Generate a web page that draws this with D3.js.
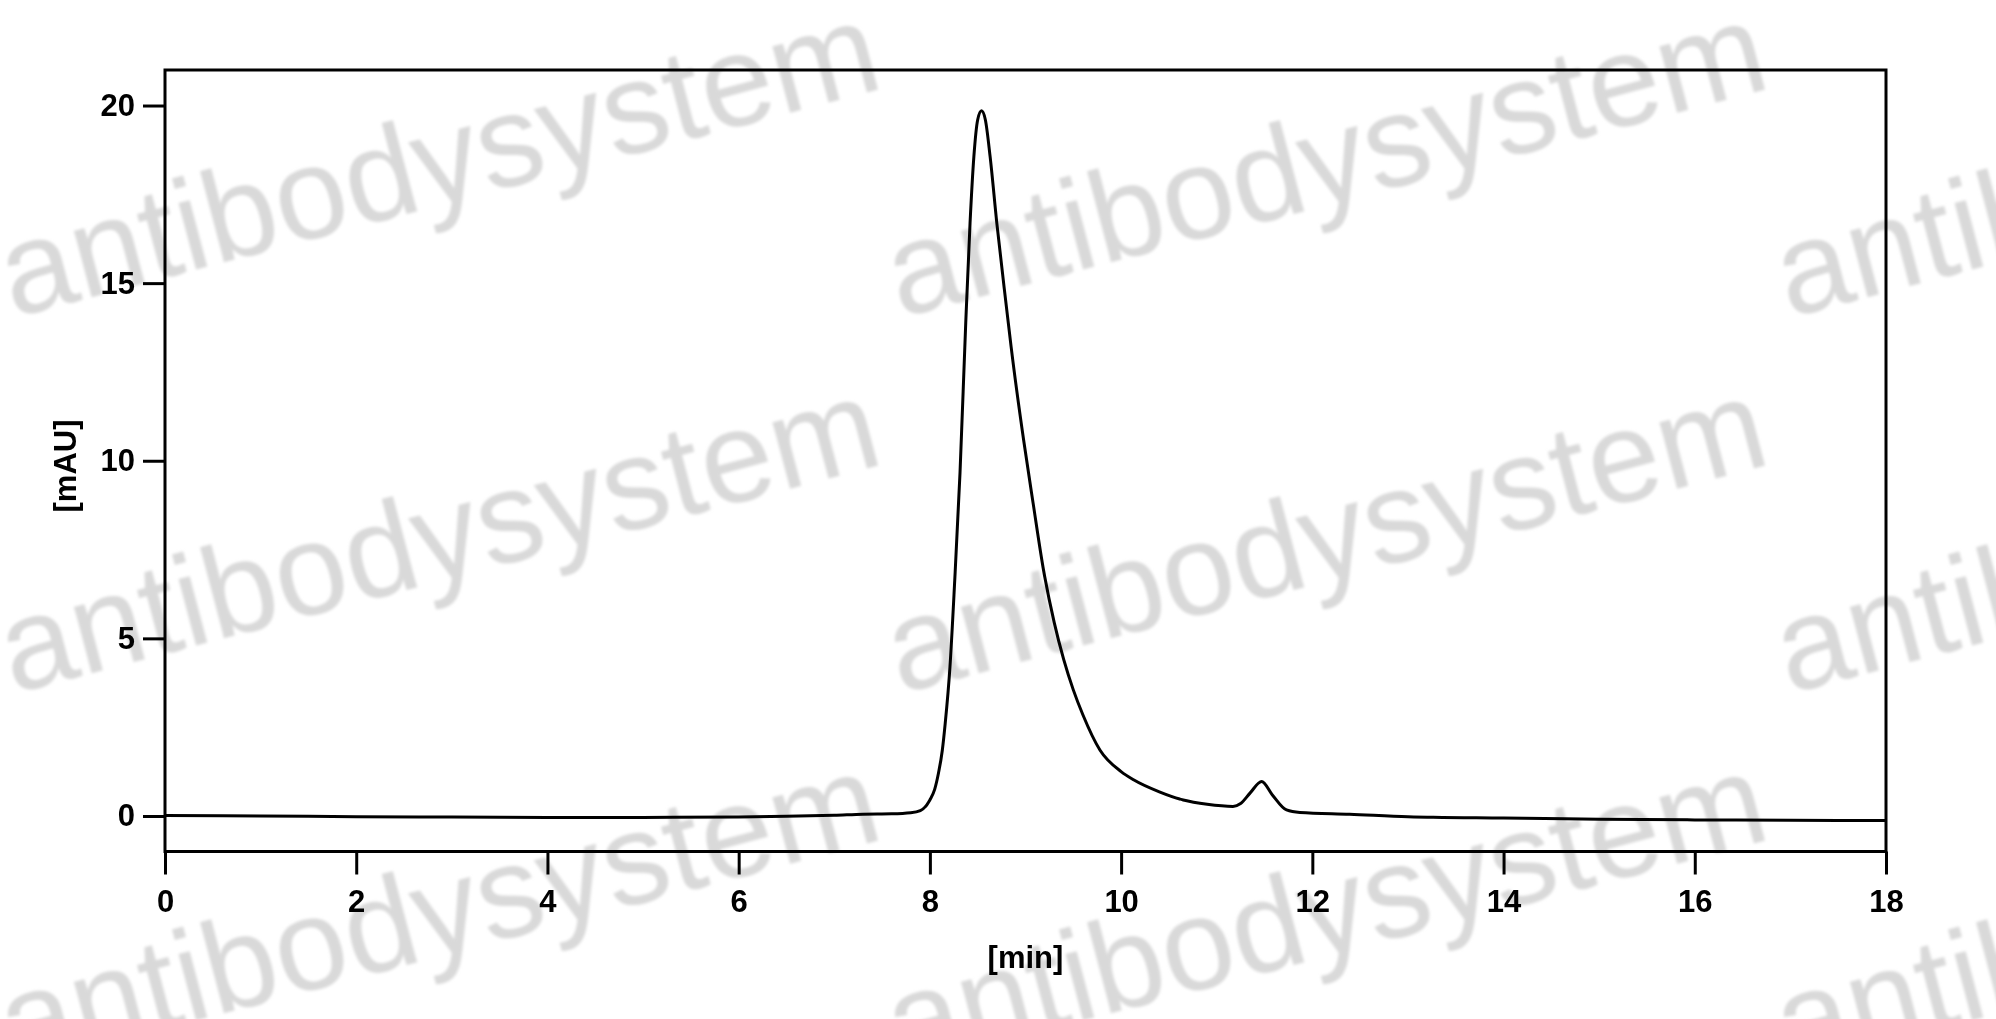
<!DOCTYPE html>
<html>
<head>
<meta charset="utf-8">
<script src="https://cdn.jsdelivr.net/npm/d3@7"></script>
<style>
  body { margin: 0; background: #fff; }
  svg { display: block; }
</style>
</head>
<body>
<div id="chart"></div>
<script>
// retention time [min] and absorbance [mAU]
var times = [0, 1, 2, 3, 4, 5, 6, 6.5, 7, 7.3, 7.6, 7.8, 7.9, 8.0, 8.05, 8.09, 8.13, 8.16, 8.21, 8.26,
	8.315, 8.375, 8.42, 8.46, 8.5, 8.54, 8.58, 8.63, 8.7, 8.8, 8.85, 8.98, 9.08, 9.19, 9.3, 9.4,
	9.5, 9.6, 9.78, 10.0, 10.13, 10.4, 10.65, 10.9, 11.17, 11.25, 11.35, 11.47, 11.58, 11.73, 11.87,
	12.39, 13, 14, 15, 16, 17, 18];
var absorbance = [0.01, 0.0, -0.02, -0.03, -0.04, -0.04, -0.03, -0.01, 0.02, 0.05, 0.06, 0.09, 0.15, 0.45,
	0.75, 1.21, 1.85, 2.6, 4.2, 6.64, 9.66, 13.88, 16.69, 18.56, 19.6, 19.85, 19.6, 18.56, 16.69,
	14.34, 13.2, 10.59, 8.8, 6.9, 5.45, 4.4, 3.55, 2.85, 1.85, 1.25, 1.02, 0.68, 0.45, 0.33, 0.27,
	0.35, 0.65, 0.97, 0.6, 0.17, 0.1, 0.05, -0.02, -0.06, -0.09, -0.11, -0.12, -0.13];

var xTicks = [0, 2, 4, 6, 8, 10, 12, 14, 16, 18];
var yTicks = [0, 5, 10, 15, 20];
var xTitle = "[min]";
var yTitle = "[mAU]";
var watermark = "antibodysystem";

var W = 1996, H = 1019;
var margin = { top: 70, right: 110, bottom: 167.5, left: 165 };
var width = W - margin.left - margin.right,
	height = H - margin.top - margin.bottom;
var font = "'Liberation Sans', Arial, Helvetica, sans-serif";

var svg = d3.select("#chart")
	.append("svg")
	.attr("width", W)
	.attr("height", H);

svg.append("rect").attr("width", W).attr("height", H).attr("fill", "#fff");

// soft grey watermark behind everything
var defs = svg.append("defs");
defs.append("filter").attr("id", "soft")
	.append("feGaussianBlur").attr("stdDeviation", 1.4);

var wm = svg.append("g").attr("filter", "url(#soft)");
[318, 694, 1069].forEach(function (rowY) {
	[13, 900, 1789].forEach(function (colX) {
		wm.append("text")
			.attr("transform", "translate(" + colX + "," + rowY + ") rotate(-14.8)")
			.attr("font-family", font)
			.attr("font-size", 130)
			.attr("fill", "#d9d9d9")
			.text(watermark);
	});
});

var g = svg.append("g")
	.attr("transform", "translate(" + margin.left + "," + margin.top + ")");

var x = d3.scaleLinear().domain([0, 18]).range([0, width]);
var y = d3.scaleLinear().domain([-1, 21]).range([height, 0]);

// x axis
var xAxis = g.append("g")
	.attr("transform", "translate(0," + height + ")")
	.call(d3.axisBottom(x).tickValues(xTicks).tickSize(23).tickPadding(15).tickFormat(d3.format("d")));

// y axis
var yAxis = g.append("g")
	.call(d3.axisLeft(y).tickValues(yTicks).tickSize(22).tickPadding(8).tickFormat(d3.format("d")));

[xAxis, yAxis].forEach(function (ax) {
	ax.select(".domain").remove();
	ax.selectAll(".tick line").attr("stroke", "#000").attr("stroke-width", 3);
	ax.selectAll(".tick text")
		.attr("fill", "#000")
		.attr("font-family", font)
		.attr("font-weight", "bold")
		.attr("font-size", 31);
});

// frame
g.append("rect")
	.attr("x", 0).attr("y", 0)
	.attr("width", width).attr("height", height)
	.attr("fill", "none")
	.attr("stroke", "#000")
	.attr("stroke-width", 3);

// trace
var line = d3.line()
	.x(function (d, i) { return x(times[i]); })
	.y(function (d) { return y(d); })
	.curve(d3.curveMonotoneX);

g.append("path")
	.datum(absorbance)
	.attr("d", line)
	.attr("fill", "none")
	.attr("stroke", "#000")
	.attr("stroke-width", 3)
	.attr("stroke-linejoin", "round");

// axis titles
svg.append("text")
	.attr("x", margin.left + width / 2)
	.attr("y", 968)
	.attr("text-anchor", "middle")
	.attr("font-family", font)
	.attr("font-weight", "bold")
	.attr("font-size", 31)
	.text(xTitle);

svg.append("text")
	.attr("transform", "translate(65,466) rotate(-90)")
	.attr("dy", "0.35em")
	.attr("text-anchor", "middle")
	.attr("font-family", font)
	.attr("font-weight", "bold")
	.attr("font-size", 31)
	.text(yTitle);
</script>
</body>
</html>
